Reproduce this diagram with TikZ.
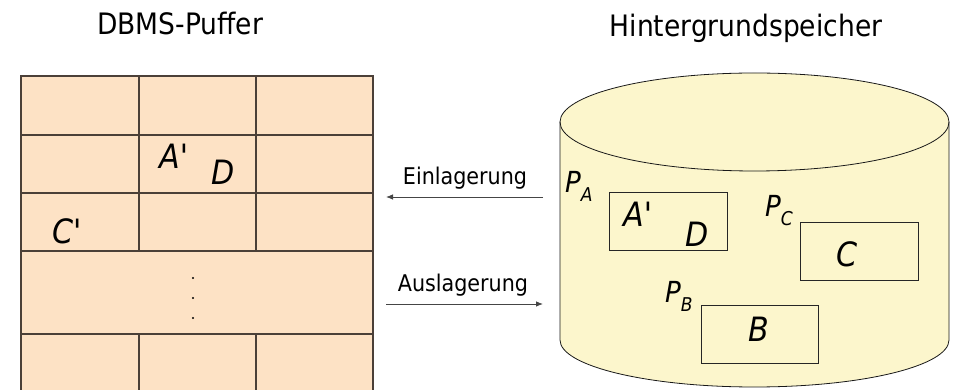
\documentclass[tikz,border=0pt]{standalone}
\usepackage{fontspec}
\setmainfont{DejaVu Sans Condensed}
\newfontfamily\letfont{DejaVu Sans Condensed Oblique}
\usetikzlibrary{arrows.meta}
\definecolor{buffill}{HTML}{FDE2C5}
\definecolor{bufline}{HTML}{4B4038}
\definecolor{cylfill}{HTML}{FCF6CC}
\definecolor{arrcol}{HTML}{454545}
\tikzset{
  title/.style={font=\fontsize{29.5}{32}\selectfont, inner sep=0pt, anchor=base},
  lab/.style={font=\fontsize{23}{26}\selectfont, inner sep=0pt, anchor=base},
  letter/.style={font=\letfont\fontsize{33.5}{36}\selectfont, inner sep=0pt, anchor=base west},
  plab/.style={font=\letfont\fontsize{29}{32}\selectfont, inner sep=0pt, anchor=base west},
  page/.style={draw=black!85, line width=0.8pt, minimum width=#1, minimum height=58pt, inner sep=0pt},
  gridline/.style={draw=bufline, line width=1.4pt},
  flow/.style={draw=arrcol, line width=0.8pt, -{Latex[length=7pt,width=5.5pt]}}
}
\newcommand{\psub}[1]{\raisebox{-9pt}{\fontsize{19}{22}\selectfont #1}}
\begin{document}
\begin{tikzpicture}[x=1pt,y=1pt]
\useasboundingbox (0,0) rectangle (955,390);
\clip (0,0) rectangle (955,390);
% titles
\node[title] (t1) at (180,355) {DBMS-Puffer};
\node[title] (t2) at (746,353) {Hintergrundspeicher};
% buffer grid
\fill[buffill] (21,-5) rectangle (373,314);
\draw[gridline] (21,-5) -- (21,314) -- (373,314) -- (373,-5);
\foreach \y in {255,197,139,56} \draw[gridline] (21,\y) -- (373,\y);
\foreach \x in {139,256} {
  \draw[gridline] (\x,314) -- (\x,139);
  \draw[gridline] (\x,56) -- (\x,-5);
}
\node[letter] (ga) at (159,221) {A'};
\node[letter] (gd) at (211,205) {D};
\node[letter] (gc) at (52,146) {C'};
\foreach \y/\n in {112/1,92/2,72/3} \fill (193,\y) circle (1.1pt);
% cylinder
\path[fill=cylfill, draw=black!90, line width=0.8pt] (560,268) -- (560,50)
  arc[start angle=180, end angle=360, x radius=194.5, y radius=47] -- (949,268)
  arc[start angle=0, end angle=180, x radius=194.5, y radius=49] -- cycle;
\draw[black!90, line width=0.8pt] (560,268) arc[start angle=180, end angle=360, x radius=194.5, y radius=49];
% pages
\node[page=118pt] (pa) at (668,169) {};
\node[page=118pt] (pc) at (859,138.5) {};
\node[page=117pt] (pb) at (759.5,56) {};
\node[plab] (lpa) at (565,197) {P\psub{A}};
\node[plab] (lpc) at (765,173) {P\psub{C}};
\node[plab] (lpb) at (665,87) {P\psub{B}};
\node[letter] (ba) at (623,163) {A'};
\node[letter] (bd) at (685,143) {D};
\node[letter] (bc) at (836,123) {C};
\node[letter] (bb) at (748,48) {B};
% arrows
\coordinate (e1) at (543,193);
\coordinate (e2) at (386,193);
\coordinate (a1) at (386,86);
\coordinate (a2) at (543,86);
\draw[flow] (e1) -- (e2);
\draw[flow] (a1) -- (a2);
\node[lab] (le) at (465,205) {Einlagerung};
\node[lab] (la) at (463,98) {Auslagerung};
\end{tikzpicture}
\end{document}
